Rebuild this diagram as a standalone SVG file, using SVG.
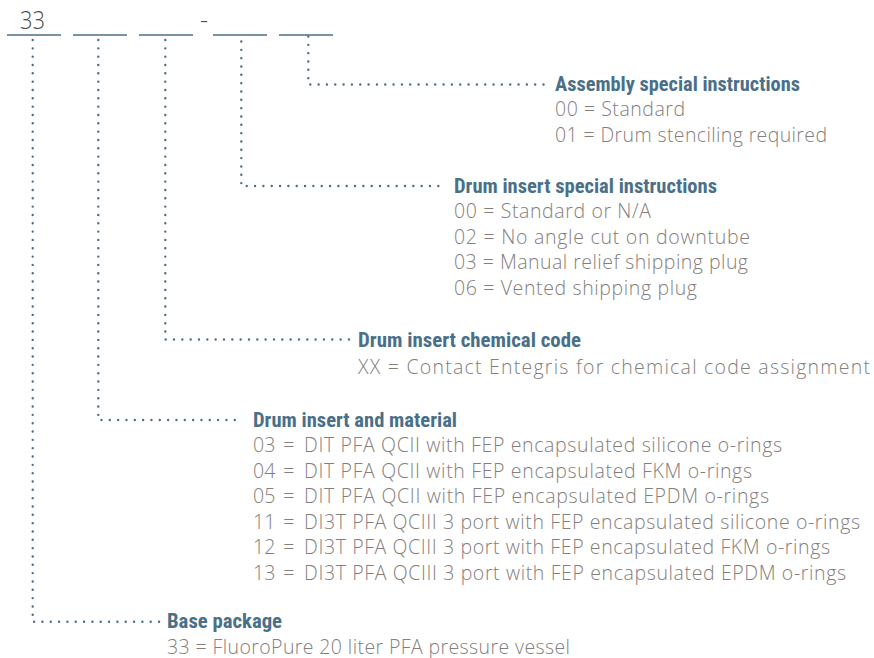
<svg xmlns="http://www.w3.org/2000/svg" width="874" height="658" viewBox="0 0 874 658">
<style>
.bg{fill:#ffffff}
.ul{stroke:#4a6f85;stroke-width:1.5;fill:none}
.dot{stroke:#4a6f85;stroke-width:2.4;fill:none;stroke-linecap:round;stroke-dasharray:0 8.33}
.h{font-family:"Roboto Condensed","Liberation Sans Narrow",Roboto,"Liberation Sans",Arial,sans-serif;font-weight:bold;font-size:19.5px;fill:#4a7088}
.t{font-family:"Open Sans",Lato,"Liberation Sans",sans-serif;font-weight:300;font-size:19.5px;fill:#847e7c}
.code{font-family:"Open Sans",Lato,"Liberation Sans",sans-serif;font-weight:300;font-size:25px;fill:#4d4d4d}
</style>
<rect class="bg" x="0" y="0" width="874" height="658"/>
<g id="code">
<text class="code" x="20" y="28.5" textLength="25" lengthAdjust="spacingAndGlyphs">33</text>
<text class="code" x="200" y="28.5">-</text>
<line class="ul" x1="7" y1="35" x2="61" y2="35"/>
<line class="ul" x1="73" y1="35" x2="127" y2="35"/>
<line class="ul" x1="139" y1="35" x2="193" y2="35"/>
<line class="ul" x1="213" y1="35" x2="267" y2="35"/>
<line class="ul" x1="279" y1="35" x2="333" y2="35"/>
</g>
<g id="connectors">
<path class="dot" d="M308.3 36.5 V84.5 H547"/>
<path class="dot" d="M241.3 41.5 V186 H445"/>
<path class="dot" d="M165.3 40 V339.5 H350"/>
<path class="dot" d="M98.3 40 V420 H243"/>
<path class="dot" d="M32.7 40 V621.7 H160"/>
</g>
<g id="assembly">
<text class="h" x="555" y="90.5" textLength="245" lengthAdjust="spacingAndGlyphs">Assembly special instructions</text>
<text class="t" x="555" y="116" textLength="130">00 = Standard</text>
<text class="t" x="555" y="141.5" textLength="272">01 = Drum stenciling required</text>
</g>
<g id="insert-special">
<text class="h" x="454" y="192.5" textLength="263" lengthAdjust="spacingAndGlyphs">Drum insert special instructions</text>
<text class="t" x="454" y="218" textLength="197">00 = Standard or N/A</text>
<text class="t" x="454" y="243.5" textLength="296">02 = No angle cut on downtube</text>
<text class="t" x="454" y="269" textLength="294">03 = Manual relief shipping plug</text>
<text class="t" x="454" y="294.5" textLength="243">06 = Vented shipping plug</text>
</g>
<g id="chemical">
<text class="h" x="358" y="346.5" textLength="223" lengthAdjust="spacingAndGlyphs">Drum insert chemical code</text>
<text class="t" x="358" y="373.5" textLength="512">XX = Contact Entegris for chemical code assignment</text>
</g>
<g id="material">
<text class="h" x="253" y="427" textLength="204" lengthAdjust="spacingAndGlyphs">Drum insert and material</text>
<text class="t" x="253" y="452">03</text><text class="t" x="283.3" y="452">=</text><text class="t" x="304" y="452" textLength="478">DIT PFA QCII with FEP encapsulated silicone o-rings</text>
<text class="t" x="253" y="477.5">04</text><text class="t" x="283.3" y="477.5">=</text><text class="t" x="304" y="477.5" textLength="448">DIT PFA QCII with FEP encapsulated FKM o-rings</text>
<text class="t" x="253" y="503">05</text><text class="t" x="283.3" y="503">=</text><text class="t" x="304" y="503" textLength="465">DIT PFA QCII with FEP encapsulated EPDM o-rings</text>
<text class="t" x="253" y="528.5">11</text><text class="t" x="283.3" y="528.5">=</text><text class="t" x="304" y="528.5" textLength="556">DI3T PFA QCIII 3 port with FEP encapsulated silicone o-rings</text>
<text class="t" x="253" y="554">12</text><text class="t" x="283.3" y="554">=</text><text class="t" x="304" y="554" textLength="526">DI3T PFA QCIII 3 port with FEP encapsulated FKM o-rings</text>
<text class="t" x="253" y="579.5">13</text><text class="t" x="283.3" y="579.5">=</text><text class="t" x="304" y="579.5" textLength="542">DI3T PFA QCIII 3 port with FEP encapsulated EPDM o-rings</text>
</g>
<g id="base">
<text class="h" x="167" y="628" textLength="115" lengthAdjust="spacingAndGlyphs">Base package</text>
<text class="t" x="167" y="653.5" textLength="403">33 = FluoroPure 20 liter PFA pressure vessel</text>
</g>
</svg>
